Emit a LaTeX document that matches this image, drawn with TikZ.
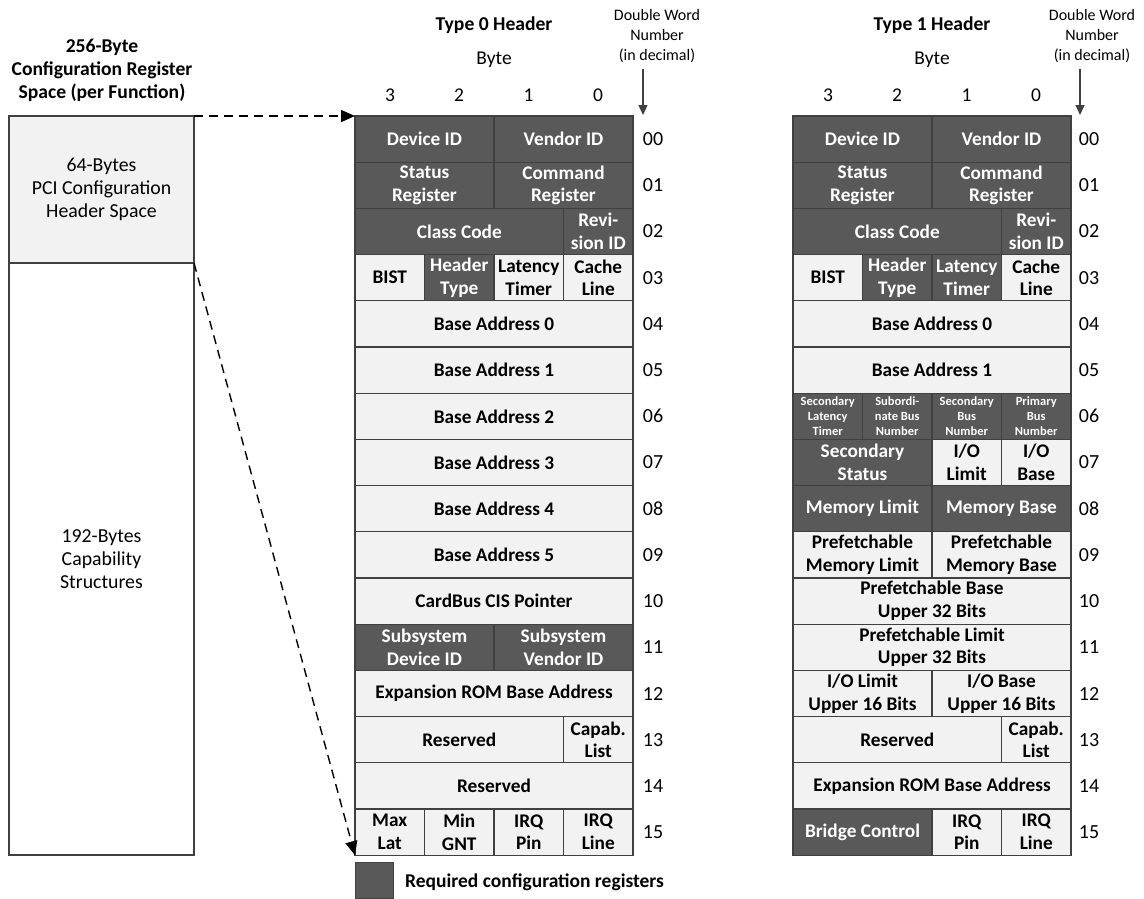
\documentclass[tikz,border=0pt]{standalone}
\usepackage{fontspec}
\setmainfont{Carlito}
\usetikzlibrary{arrows.meta}
\definecolor{dk}{HTML}{595959}
\definecolor{lt}{HTML}{F2F2F2}
\definecolor{bd}{HTML}{404040}
\newcommand{\reg}[7]{\node[regbox,#6,minimum width={#4*69.5pt}] (#1) at ({#2+#3*69.5},{116+#5*46.2}) {#7};}
\tikzset{
  regbox/.style={draw=bd, line width=1.3pt, anchor=north west, minimum height=46.2pt, inner sep=0pt, outer sep=0pt, align=center, font=\bfseries\fontsize{19.3}{22.8}\selectfont},
  dkc/.style={fill=dk, text=white},
  ltc/.style={fill=lt, text=black},
  tinyc/.style={font=\bfseries\fontsize{12.5}{15}\selectfont},
  dwnum/.style={font=\fontsize{20}{22}\selectfont, inner sep=0pt},
  bytelbl/.style={font=\fontsize{19.5}{22}\selectfont, inner sep=0pt},
  ttl/.style={font=\bfseries\fontsize{19.6}{23}\selectfont, inner sep=0pt, align=center},
  dwlbl/.style={font=\fontsize{16}{20}\selectfont, inner sep=0pt, align=center},
  dwarrow/.style={draw=bd, line width=1.3pt, -{Triangle[length=10pt,width=9pt]}},
  maparrow/.style={draw=black, line width=1.4pt, dash pattern=on 9pt off 6pt, -{Triangle[length=14pt,width=12pt]}},
  spacebox/.style={draw=bd, line width=1.3pt, inner sep=0pt, outer sep=0pt, align=center, font=\fontsize{19.8}{23}\selectfont},
}
\begin{document}
\begin{tikzpicture}[x=1pt,y=-1pt]
\useasboundingbox (0,0) rectangle (1144,898);

% ---------- left: configuration space ----------
\node[ttl] (title) at (102,70) {256-Byte\\Configuration Register\\Space (per Function)};
\node[spacebox, fill=lt, minimum width=185pt, minimum height=147pt, anchor=north west] (hdr) at (9,116) {64-Bytes\\PCI Configuration\\Header Space};
\node[spacebox, fill=white, minimum width=185pt, minimum height=592pt, anchor=north west] (cap) at (9,263) {192-Bytes\\Capability\\Structures};

% ---------- Type 0 header ----------
\node[ttl] (t0title) at (494,25) {Type 0 Header};
\node[bytelbl] (t0byte) at (494,60) {Byte};
\node[bytelbl] (t0b3) at (390,95) {3};
\node[bytelbl] (t0b2) at (459,95) {2};
\node[bytelbl] (t0b1) at (528.5,95) {1};
\node[bytelbl] (t0b0) at (598,95) {0};
\node[dwlbl] (t0dw) at (657,36) {Double Word\\Number\\(in decimal)};
\coordinate (t0as) at (643,69);
\coordinate (t0ae) at (643,115);
\draw[dwarrow] (t0as) -- (t0ae);

\reg{a00a}{355}{0}{2}{0}{dkc}{Device ID}
\reg{a00b}{355}{2}{2}{0}{dkc}{Vendor ID}
\reg{a01a}{355}{0}{2}{1}{dkc}{Status\\Register}
\reg{a01b}{355}{2}{2}{1}{dkc}{Command\\Register}
\reg{a02a}{355}{0}{3}{2}{dkc}{Class Code}
\reg{a02b}{355}{3}{1}{2}{dkc}{Revi-\\sion ID}
\reg{a03a}{355}{0}{1}{3}{ltc}{BIST}
\reg{a03b}{355}{1}{1}{3}{dkc}{Header\\Type}
\reg{a03c}{355}{2}{1}{3}{ltc}{Latency\\Timer}
\reg{a03d}{355}{3}{1}{3}{ltc}{Cache\\Line}
\reg{a04}{355}{0}{4}{4}{ltc}{Base Address 0}
\reg{a05}{355}{0}{4}{5}{ltc}{Base Address 1}
\reg{a06}{355}{0}{4}{6}{ltc}{Base Address 2}
\reg{a07}{355}{0}{4}{7}{ltc}{Base Address 3}
\reg{a08}{355}{0}{4}{8}{ltc}{Base Address 4}
\reg{a09}{355}{0}{4}{9}{ltc}{Base Address 5}
\reg{a10}{355}{0}{4}{10}{ltc}{CardBus CIS Pointer}
\reg{a11a}{355}{0}{2}{11}{dkc}{Subsystem\\Device ID}
\reg{a11b}{355}{2}{2}{11}{dkc}{Subsystem\\Vendor ID}
\reg{a12}{355}{0}{4}{12}{ltc}{Expansion ROM Base Address}
\reg{a13a}{355}{0}{3}{13}{ltc}{Reserved}
\reg{a13b}{355}{3}{1}{13}{ltc}{Capab.\\List}
\reg{a14}{355}{0}{4}{14}{ltc}{Reserved}
\reg{a15a}{355}{0}{1}{15}{ltc}{Max\\Lat}
\reg{a15b}{355}{1}{1}{15}{ltc}{Min\\GNT}
\reg{a15c}{355}{2}{1}{15}{ltc}{IRQ\\Pin}
\reg{a15d}{355}{3}{1}{15}{ltc}{IRQ\\Line}

\foreach \r/\t in {0/00,1/01,2/02,3/03,4/04,5/05,6/06,7/07,8/08,9/09,10/10,11/11,12/12,13/13,14/14,15/15}
  \node[dwnum] (n0\t) at (653,{116+(\r+0.5)*46.2}) {\t};

% ---------- Type 1 header ----------
\node[ttl] (t1title) at (932,25) {Type 1 Header};
\node[bytelbl] (t1byte) at (932,60) {Byte};
\node[bytelbl] (t1b3) at (828,95) {3};
\node[bytelbl] (t1b2) at (897,95) {2};
\node[bytelbl] (t1b1) at (966.5,95) {1};
\node[bytelbl] (t1b0) at (1036,95) {0};
\node[dwlbl] (t1dw) at (1092,36) {Double Word\\Number\\(in decimal)};
\coordinate (t1as) at (1080,69);
\coordinate (t1ae) at (1080,115);
\draw[dwarrow] (t1as) -- (t1ae);

\reg{b00a}{793}{0}{2}{0}{dkc}{Device ID}
\reg{b00b}{793}{2}{2}{0}{dkc}{Vendor ID}
\reg{b01a}{793}{0}{2}{1}{dkc}{Status\\Register}
\reg{b01b}{793}{2}{2}{1}{dkc}{Command\\Register}
\reg{b02a}{793}{0}{3}{2}{dkc}{Class Code}
\reg{b02b}{793}{3}{1}{2}{dkc}{Revi-\\sion ID}
\reg{b03a}{793}{0}{1}{3}{ltc}{BIST}
\reg{b03b}{793}{1}{1}{3}{dkc}{Header\\Type}
\reg{b03c}{793}{2}{1}{3}{dkc}{Latency\\Timer}
\reg{b03d}{793}{3}{1}{3}{ltc}{Cache\\Line}
\reg{b04}{793}{0}{4}{4}{ltc}{Base Address 0}
\reg{b05}{793}{0}{4}{5}{ltc}{Base Address 1}
\reg{b06a}{793}{0}{1}{6}{dkc,tinyc}{Secondary\\Latency\\Timer}
\reg{b06b}{793}{1}{1}{6}{dkc,tinyc}{Subordi-\\nate Bus\\Number}
\reg{b06c}{793}{2}{1}{6}{dkc,tinyc}{Secondary\\Bus\\Number}
\reg{b06d}{793}{3}{1}{6}{dkc,tinyc}{Primary\\Bus\\Number}
\reg{b07a}{793}{0}{2}{7}{dkc}{Secondary\\Status}
\reg{b07b}{793}{2}{1}{7}{ltc}{I/O\\Limit}
\reg{b07c}{793}{3}{1}{7}{ltc}{I/O\\Base}
\reg{b08a}{793}{0}{2}{8}{dkc}{Memory Limit}
\reg{b08b}{793}{2}{2}{8}{dkc}{Memory Base}
\reg{b09a}{793}{0}{2}{9}{ltc}{Prefetchable\\Memory Limit}
\reg{b09b}{793}{2}{2}{9}{ltc}{Prefetchable\\Memory Base}
\reg{b10}{793}{0}{4}{10}{ltc}{Prefetchable Base\\Upper 32 Bits}
\reg{b11}{793}{0}{4}{11}{ltc}{Prefetchable Limit\\Upper 32 Bits}
\reg{b12a}{793}{0}{2}{12}{ltc}{I/O Limit\\Upper 16 Bits}
\reg{b12b}{793}{2}{2}{12}{ltc}{I/O Base\\Upper 16 Bits}
\reg{b13a}{793}{0}{3}{13}{ltc}{Reserved}
\reg{b13b}{793}{3}{1}{13}{ltc}{Capab.\\List}
\reg{b14}{793}{0}{4}{14}{ltc}{Expansion ROM Base Address}
\reg{b15a}{793}{0}{2}{15}{dkc}{Bridge Control}
\reg{b15b}{793}{2}{1}{15}{ltc}{IRQ\\Pin}
\reg{b15c}{793}{3}{1}{15}{ltc}{IRQ\\Line}

\foreach \r/\t in {0/00,1/01,2/02,3/03,4/04,5/05,6/06,7/07,8/08,9/09,10/10,11/11,12/12,13/13,14/14,15/15}
  \node[dwnum] (n1\t) at (1089,{116+(\r+0.5)*46.2}) {\t};

% ---------- mapping arrows ----------
\draw[maparrow] (hdr.north east) -- (a00a.north west);
\draw[maparrow] (cap.north east) -- (a15a.south west);

% ---------- legend ----------
\node[draw=bd, line width=1.3pt, fill=dk, minimum width=38pt, minimum height=36pt, inner sep=0pt, anchor=north west] (legbox) at (355,862) {};
\node[font=\bfseries\fontsize{19.5}{22}\selectfont, anchor=west, inner sep=0pt] (legtxt) at (405,882) {Required configuration registers};
\end{tikzpicture}
\end{document}
